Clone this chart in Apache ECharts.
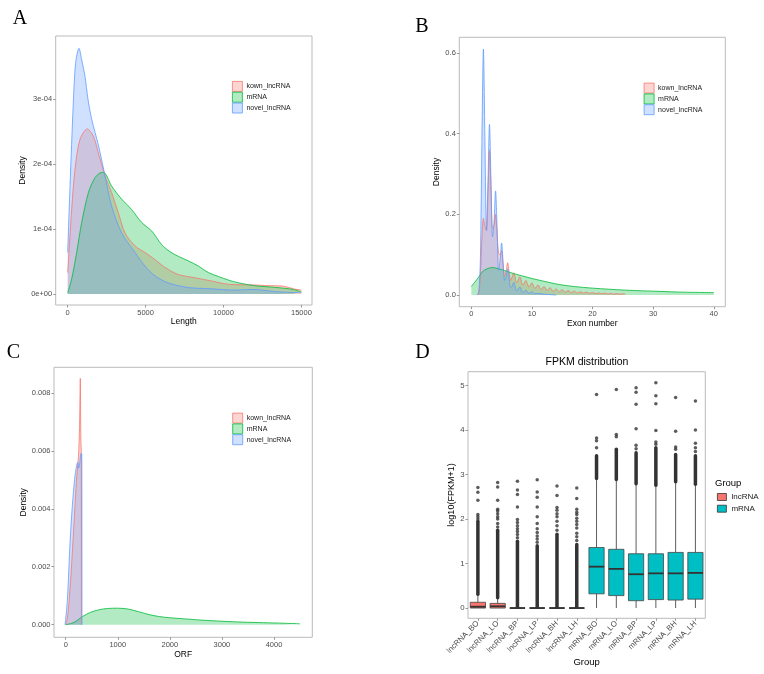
<!DOCTYPE html>
<html>
<head>
<meta charset="utf-8">
<script src="https://cdn.jsdelivr.net/npm/echarts@6/dist/echarts.min.js"></script>
<style>
  html, body { margin: 0; padding: 0; background: #fff; }
  #main { width: 764px; height: 674px; }
</style>
</head>
<body>
<div id="main"></div>
<script>
// ---- data ----
var groups = ['kown_lncRNA', 'mRNA', 'novel_lncRNA'];

// A: transcript length density
var lenKown = [[0,0.33e-4],[255,1.30e-4],[469,1.92e-4],[790,2.38e-4],[1260,2.54e-4],[1645,2.43e-4],[1966,2.17e-4],[2395,1.82e-4],[2820,1.56e-4],[3250,1.25e-4],[3680,0.94e-4],[4320,0.74e-4],[4960,0.64e-4],[5600,0.53e-4],[6240,0.41e-4],[7100,0.30e-4],[8170,0.25e-4],[9240,0.20e-4],[10310,0.15e-4],[11930,0.14e-4],[12790,0.13e-4],[13850,0.12e-4],[14490,0.08e-4],[15000,0.06e-4]];
var lenMrna = [[0,0.02e-4],[255,0.23e-4],[577,0.64e-4],[898,1.10e-4],[1330,1.56e-4],[1755,1.79e-4],[2180,1.87e-4],[2395,1.86e-4],[2820,1.66e-4],[3465,1.46e-4],[4100,1.30e-4],[4750,1.10e-4],[5390,0.97e-4],[6030,0.76e-4],[6570,0.65e-4],[7100,0.58e-4],[7740,0.51e-4],[8390,0.43e-4],[9030,0.33e-4],[9670,0.27e-4],[10010,0.24e-4],[10650,0.19e-4],[11930,0.13e-4],[13420,0.10e-4],[14490,0.07e-4],[15000,0.03e-4]];
var lenNovel = [[0,0.64e-4],[150,1.66e-4],[360,2.94e-4],[510,3.56e-4],[725,3.78e-4],[900,3.60e-4],[1110,3.35e-4],[1300,3.00e-4],[1540,2.69e-4],[1980,2.28e-4],[2350,1.87e-4],[2820,1.35e-4],[3465,0.94e-4],[4320,0.64e-4],[4960,0.43e-4],[5600,0.28e-4],[6460,0.17e-4],[7740,0.10e-4],[9240,0.08e-4],[10650,0.06e-4],[11930,0.07e-4],[13420,0.035e-4],[15000,0.02e-4]];
var lenXTicks = [0, 5000, 10000, 15000];
var lenYTicks = [0, 1e-4, 2e-4, 3e-4];

// B: exon number density
var exonKown = [[1.0,0],[1.25,0.005],[1.5,0.05],[1.75,0.14],[2,0.19],[2.25,0.17],[2.5,0.16],[2.75,0.25],[3,0.359],[3.25,0.26],[3.5,0.165],[3.75,0.17],[4,0.20],[4.25,0.15],[4.5,0.103],[4.75,0.10],[5,0.11],[5.25,0.07],[5.5,0.046],[5.75,0.06],[6,0.08],[6.25,0.055],[6.5,0.036],[6.75,0.045],[7,0.055],[7.5,0.03],[8,0.045],[8.5,0.024],[9,0.036],[9.5,0.02],[10,0.03],[10.5,0.016],[11,0.025],[11.5,0.013],[12,0.021],[12.5,0.011],[13,0.018],[13.5,0.009],[14,0.015],[14.5,0.008],[15,0.013],[15.5,0.007],[16,0.011],[16.5,0.006],[17,0.0095],[17.5,0.005],[18,0.008],[18.5,0.0045],[19,0.007],[19.5,0.004],[20,0.006],[20.5,0.0035],[21,0.005],[21.5,0.003],[22,0.0045],[22.5,0.0025],[23,0.004],[23.5,0.002],[24,0.0035],[24.5,0.002],[25,0.003],[25.4,0.002]];
var exonMrna = [[0,0.021],[1,0.04],[2,0.06],[3,0.067],[3.5,0.068],[4,0.067],[5,0.063],[6,0.058],[7,0.053],[8,0.049],[9,0.045],[10,0.041],[12,0.034],[14.5,0.026],[17,0.021],[20,0.017],[25.5,0.012],[31,0.009],[35,0.007],[40,0.006]];
var exonNovel = [[1.0,0],[1.25,0.01],[1.5,0.09],[1.75,0.38],[2,0.61],[2.25,0.38],[2.5,0.16],[2.75,0.28],[3,0.423],[3.25,0.28],[3.5,0.144],[3.75,0.18],[4,0.258],[4.25,0.17],[4.5,0.061],[4.75,0.085],[5,0.129],[5.25,0.08],[5.5,0.036],[5.75,0.045],[6,0.065],[6.25,0.04],[6.5,0.018],[6.75,0.022],[7,0.032],[7.25,0.02],[7.5,0.01],[8,0.02],[8.5,0.006],[9,0.012],[9.5,0.004],[10,0.008],[10.5,0.003],[11,0.004],[12,0.002],[13,0.001],[14,0]];
var exonXTicks = [0, 10, 20, 30, 40];
var exonYTicks = [0, 0.2, 0.4, 0.6];

// C: ORF length density
var orfKown = [[0,0],[30,0.0002],[60,0.0007],[100,0.0017],[130,0.0026],[160,0.0035],[190,0.0045],[220,0.0053],[245,0.0058],[265,0.0068],[280,0.0085],[290,0.0065],[300,0.0058],[302,0]];
var orfMrna = [[0,0],[160,0.00008],[320,0.00028],[480,0.00043],[650,0.00052],[800,0.00056],[1000,0.00057],[1200,0.00054],[1400,0.00045],[1600,0.00035],[1800,0.00028],[2000,0.00024],[2300,0.0002],[2600,0.00016],[3000,0.00012],[3400,0.00009],[3800,0.00007],[4200,0.00005],[4500,0.00003]];
var orfNovel = [[-13,0],[0,0.0002],[30,0.0008],[60,0.0019],[85,0.0029],[127,0.0041],[170,0.0050],[210,0.0055],[230,0.0056],[250,0.0054],[270,0.0056],[290,0.0059],[308,0.0059],[312,0]];
var orfXTicks = [0, 1000, 2000, 3000, 4000];
var orfYTicks = [0, 0.002, 0.004, 0.006, 0.008];

// D: FPKM distribution (min, q1, median, q3, upper whisker)
var fpkmCats = ['lncRNA_BO','lncRNA_LO','lncRNA_BP','lncRNA_LP','lncRNA_BH','lncRNA_LH','mRNA_BO','mRNA_LO','mRNA_BP','mRNA_LP','mRNA_BH','mRNA_LH'];
var lncBoxes = [[0,0,0.03,0.13,0.31],[0,0,0.04,0.105,0.23],[0,0,0,0,0],[0,0,0,0,0],[0,0,0,0,0],[0,0,0,0,0]];
var mrnaBoxes = [[0,0.32,0.93,1.36,2.91],[0,0.28,0.88,1.32,2.89],[0,0.165,0.76,1.22,2.79],[0,0.19,0.78,1.22,2.76],[0,0.18,0.78,1.25,2.84],[0,0.2,0.79,1.25,2.78]];
// outlier columns too dense to separate: [low, high]
var denseOutliers = [[0.31,1.95],[0.23,1.75],[0.02,1.5],[0.02,1.4],[0.02,1.66],[0.02,1.43],[2.91,3.42],[2.89,3.57],[2.79,3.49],[2.76,3.6],[2.84,3.45],[2.78,3.42]];
var sparseOutliers = [
  [2.0,2.05,2.1,2.42,2.6,2.71],
  [1.82,1.9,2.0,2.05,2.12,2.18,2.22,2.42,2.72,2.82],
  [1.58,1.65,1.72,1.78,1.85,1.92,1.99,2.27,2.55,2.65,2.85],
  [1.48,1.55,1.62,1.7,1.78,1.9,2.05,2.27,2.49,2.61,2.88],
  [1.75,1.85,1.95,2.05,2.12,2.2,2.26,2.53,2.74],
  [1.52,1.6,1.68,1.8,1.88,1.95,2.02,2.1,2.15,2.22,2.46,2.7],
  [3.6,3.76,3.82,4.8],
  [3.85,3.9,4.91],
  [3.58,3.66,4.03,4.58,4.85,4.95],
  [3.68,3.73,3.99,4.59,4.77,5.06],
  [3.57,3.62,3.97,4.73],
  [3.52,3.6,3.7,4.0,4.65]
];
var fpkmYTicks = [0, 1, 2, 3, 4, 5];

// ---- style ----
var lineColors = ['#F8766D', '#00BA38', '#619CFF'];
var fillColors = ['rgba(248,118,109,0.3)', 'rgba(0,186,56,0.3)', 'rgba(97,156,255,0.3)'];
var boxColors = ['#F8766D', '#00BFC4'];
var FONT = 'Liberation Sans';
var tickColor = '#4D4D4D';

var myChart = echarts.init(document.getElementById('main'));

function densitySeries(name, data, idx, ci) {
  return {
    type: 'line', name: name, xAxisIndex: idx, yAxisIndex: idx,
    data: data, symbol: 'none', smooth: 0.3,
    lineStyle: { color: lineColors[ci], width: 0.8 },
    itemStyle: { color: lineColors[ci] },
    areaStyle: { color: fillColors[ci], opacity: 1 },
    silent: true
  };
}

function plainLabel(v) { return String(v); }

function valueXAxis(idx, min, max, ticks, name, gap) {
  return {
    type: 'value', gridIndex: idx, min: min, max: max,
    axisLine: { show: false, onZero: false }, splitLine: { show: false },
    axisTick: { show: true, length: 2.5, lineStyle: { color: '#999' }, customValues: ticks },
    axisLabel: { customValues: ticks, formatter: plainLabel, color: tickColor, fontSize: 7.5, fontFamily: FONT, margin: 3.5 },
    name: name, nameLocation: 'middle', nameGap: gap,
    nameTextStyle: { color: '#000', fontSize: 8.5, fontFamily: FONT }
  };
}

function valueYAxis(idx, min, max, ticks, fmt, name, gap, nameSize, labelSize) {
  return {
    type: 'value', gridIndex: idx, min: min, max: max,
    axisLine: { show: false, onZero: false }, splitLine: { show: false },
    axisTick: { show: true, length: 2.5, lineStyle: { color: '#999' }, customValues: ticks },
    axisLabel: { customValues: ticks, formatter: fmt, color: tickColor, fontSize: labelSize || 7.5, fontFamily: FONT, margin: 3.5 },
    name: name, nameLocation: 'middle', nameGap: gap,
    nameTextStyle: { color: '#000', fontSize: nameSize || 8.5, fontFamily: FONT }
  };
}

function sciLabel(v) {
  var parts = v.toExponential(0).split('e');
  var e = parseInt(parts[1], 10);
  return parts[0] + 'e' + (e < 0 ? '-' : '+') + (Math.abs(e) < 10 ? '0' : '') + Math.abs(e);
}

function renderBox(params, api) {
  var i = api.value(0);
  var pMin = api.coord([i, api.value(1)]);
  var pQ1 = api.coord([i, api.value(2)]);
  var pMed = api.coord([i, api.value(3)]);
  var pQ3 = api.coord([i, api.value(4)]);
  var pMax = api.coord([i, api.value(5)]);
  var w = api.size([1, 0])[0] * 0.77;
  var x = pMed[0];
  var stroke = { stroke: '#333', lineWidth: 0.8 };
  return {
    type: 'group',
    children: [
      { type: 'line', shape: { x1: x, y1: pMax[1], x2: x, y2: pQ3[1] }, style: stroke },
      { type: 'line', shape: { x1: x, y1: pQ1[1], x2: x, y2: pMin[1] }, style: stroke },
      { type: 'rect', shape: { x: x - w / 2, y: pQ3[1], width: w, height: pQ1[1] - pQ3[1] },
        style: { fill: api.visual('color'), stroke: '#444', lineWidth: 0.8 } },
      { type: 'line', shape: { x1: x - w / 2, y1: pMed[1], x2: x + w / 2, y2: pMed[1] },
        style: { stroke: '#333', lineWidth: 1.8 } }
    ]
  };
}

function renderDense(params, api) {
  var i = api.value(0);
  var lo = api.coord([i, api.value(1)]);
  var hi = api.coord([i, api.value(2)]);
  return {
    type: 'rect',
    shape: { x: lo[0] - 1.75, y: hi[1] - 1.75, width: 3.5, height: lo[1] - hi[1] + 3.5, r: 1.75 },
    style: { fill: '#333' }
  };
}

var lncData = lncBoxes.map(function (b, i) { return [i].concat(b); });
var mrnaData = mrnaBoxes.map(function (b, i) { return [i + 6].concat(b); });
var denseData = denseOutliers.map(function (r, i) { return [i, r[0], r[1]]; });
var sparseData = [];
sparseOutliers.forEach(function (list, i) {
  list.forEach(function (v) { sparseData.push([i, v]); });
});

function densityLegend(left, top) {
  return {
    orient: 'vertical', left: left, top: top, padding: 0, itemGap: 0,
    itemWidth: 10, itemHeight: 10, icon: 'rect', selectedMode: false,
    textStyle: { fontSize: 7, fontFamily: FONT, color: '#1a1a1a', padding: [0, 0, 0, -1] },
    data: groups.map(function (g, ci) {
      return { name: g, itemStyle: { color: fillColors[ci], borderColor: lineColors[ci], borderWidth: 0.8 } };
    })
  };
}

var option = {
  animation: false,
  backgroundColor: '#fff',
  grid: [
    { left: 55.7, top: 36, width: 256.3, height: 269, show: true, borderColor: '#BBBBBB', borderWidth: 1, backgroundColor: 'transparent' },
    { left: 459.3, top: 37.3, width: 266, height: 269.4, show: true, borderColor: '#BBBBBB', borderWidth: 1, backgroundColor: 'transparent' },
    { left: 54, top: 367.3, width: 258.3, height: 270, show: true, borderColor: '#BBBBBB', borderWidth: 1, backgroundColor: 'transparent' },
    { left: 468, top: 371.7, width: 237.3, height: 246.6, show: true, borderColor: '#BBBBBB', borderWidth: 1, backgroundColor: 'transparent' }
  ],
  xAxis: [
    valueXAxis(0, -770, 15680, lenXTicks, 'Length', 12),
    valueXAxis(1, -1.98, 41.9, exonXTicks, 'Exon number', 12),
    valueXAxis(2, -225, 4735, orfXTicks, 'ORF', 9.5),
    {
      type: 'category', gridIndex: 3, data: fpkmCats,
      axisLine: { show: false, onZero: false },
      axisTick: { show: true, alignWithLabel: true, interval: 0, length: 2.5, lineStyle: { color: '#999' } },
      axisLabel: { interval: 0, rotate: 45, color: tickColor, fontSize: 7.8, fontFamily: FONT, margin: 4 },
      name: 'Group', nameLocation: 'middle', nameGap: 38.5,
      nameTextStyle: { color: '#000', fontSize: 9.5, fontFamily: FONT }
    }
  ],
  yAxis: [
    valueYAxis(0, -0.169e-4, 3.97e-4, lenYTicks, sciLabel, 'Density', 23.4),
    valueYAxis(1, -0.029, 0.639, exonYTicks, function (v) { return v.toFixed(1); }, 'Density', 14.8),
    valueYAxis(2, -0.000434, 0.00888, orfYTicks, function (v) { return v.toFixed(3); }, 'Density', 22.4),
    valueYAxis(3, -0.23, 5.31, fpkmYTicks, plainLabel, 'log10(FPKM+1)', 10, 9, 7.8)
  ],
  legend: [
    densityLegend(232, 81),
    densityLegend(643.7, 82.7),
    densityLegend(232.3, 412.7),
    {
      orient: 'vertical', left: 717, top: 493, padding: 0, itemGap: 3.7,
      itemWidth: 9, itemHeight: 7, icon: 'rect', selectedMode: false,
      textStyle: { fontSize: 8, fontFamily: FONT, color: '#1a1a1a', lineHeight: 7 },
      data: [
        { name: 'lncRNA', itemStyle: { color: boxColors[0], borderColor: '#333', borderWidth: 0.8 } },
        { name: 'mRNA', itemStyle: { color: boxColors[1], borderColor: '#333', borderWidth: 0.8 } }
      ]
    }
  ],
  graphic: [
    { type: 'text', left: 12.7, top: 8.5, style: { text: 'A', font: '20px "Liberation Serif"', fill: '#000' } },
    { type: 'text', left: 415.3, top: 16.5, style: { text: 'B', font: '20px "Liberation Serif"', fill: '#000' } },
    { type: 'text', left: 6.7, top: 343, style: { text: 'C', font: '20px "Liberation Serif"', fill: '#000' } },
    { type: 'text', left: 415.3, top: 343, style: { text: 'D', font: '20px "Liberation Serif"', fill: '#000' } },
    { type: 'text', x: 587, y: 362, style: { text: 'FPKM distribution', font: '10.5px "Liberation Sans"', fill: '#000', align: 'center', verticalAlign: 'middle' } },
    { type: 'text', x: 715, y: 483, style: { text: 'Group', font: '9.5px "Liberation Sans"', fill: '#000', align: 'left', verticalAlign: 'middle' } }
  ],
  series: [
    densitySeries(groups[0], lenKown, 0, 0),
    densitySeries(groups[1], lenMrna, 0, 1),
    densitySeries(groups[2], lenNovel, 0, 2),
    densitySeries(groups[0], exonKown, 1, 0),
    densitySeries(groups[1], exonMrna, 1, 1),
    densitySeries(groups[2], exonNovel, 1, 2),
    densitySeries(groups[0], orfKown, 2, 0),
    densitySeries(groups[1], orfMrna, 2, 1),
    densitySeries(groups[2], orfNovel, 2, 2),
    {
      type: 'custom', name: 'lncRNA', xAxisIndex: 3, yAxisIndex: 3,
      itemStyle: { color: boxColors[0] }, renderItem: renderBox,
      encode: { x: 0, y: [1, 2, 3, 4, 5] }, data: lncData, silent: true
    },
    {
      type: 'custom', name: 'mRNA', xAxisIndex: 3, yAxisIndex: 3,
      itemStyle: { color: boxColors[1] }, renderItem: renderBox,
      encode: { x: 0, y: [1, 2, 3, 4, 5] }, data: mrnaData, silent: true
    },
    {
      type: 'custom', xAxisIndex: 3, yAxisIndex: 3, renderItem: renderDense,
      encode: { x: 0, y: [1, 2] }, data: denseData, silent: true
    },
    {
      type: 'scatter', xAxisIndex: 3, yAxisIndex: 3, data: sparseData,
      symbolSize: 3.5, itemStyle: { color: '#333' }, silent: true
    }
  ]
};

myChart.setOption(option);
</script>
</body>
</html>
